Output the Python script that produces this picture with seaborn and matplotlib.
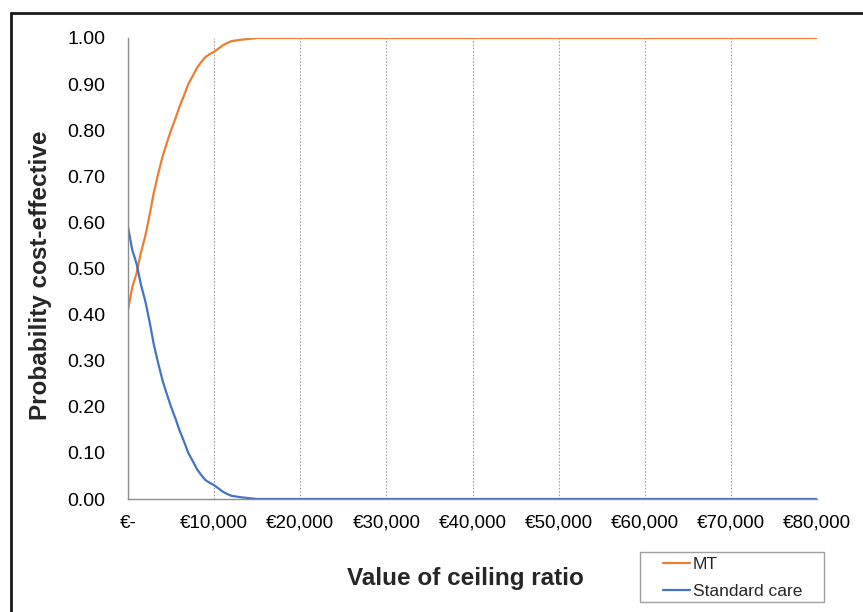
import matplotlib
matplotlib.use("Agg")
import matplotlib.pyplot as plt
import seaborn as sns
import pandas as pd
from matplotlib.patches import Rectangle
from matplotlib.ticker import FixedLocator, FuncFormatter

ceiling = [0, 500, 1000, 1500, 2000, 2500, 3000, 3500, 4000, 4500, 5000, 5500,
           6000, 6500, 7000, 7500, 8000, 8500, 9000, 9500, 10000, 10500, 11000,
           11500, 12000, 13000, 14000, 15000, 20000, 30000, 40000, 50000,
           60000, 70000, 80000]
mt = [0.41, 0.46, 0.49, 0.535, 0.57, 0.615, 0.665, 0.705, 0.742, 0.772, 0.80,
      0.825, 0.852, 0.875, 0.90, 0.917, 0.935, 0.948, 0.959, 0.965, 0.97,
      0.977, 0.984, 0.989, 0.993, 0.996, 0.998, 1.0, 1.0, 1.0, 1.0, 1.0,
      1.0, 1.0, 1.0]
standard = [0.59, 0.54, 0.51, 0.465, 0.43, 0.385, 0.335, 0.295, 0.258, 0.228,
            0.20, 0.175, 0.148, 0.125, 0.10, 0.083, 0.065, 0.052, 0.041, 0.035,
            0.030, 0.023, 0.016, 0.011, 0.007, 0.004, 0.002, 0.0, 0.0, 0.0,
            0.0, 0.0, 0.0, 0.0, 0.0]
series_names = ["MT", "Standard care"]
x_ticks = [0, 10000, 20000, 30000, 40000, 50000, 60000, 70000, 80000]
y_ticks = [0.0, 0.1, 0.2, 0.3, 0.4, 0.5, 0.6, 0.7, 0.8, 0.9, 1.0]

df = pd.DataFrame({
    "ceiling": ceiling * 2,
    "prob": mt + standard,
    "series": [series_names[0]] * len(ceiling) + [series_names[1]] * len(ceiling),
})

sns.set_style("white")
plt.rcParams["font.family"] = ["Liberation Sans", "DejaVu Sans"]

W, H = 863, 612
fig = plt.figure(figsize=(W / 100, H / 100), dpi=100)
ax = fig.add_axes([128 / W, 1 - 499 / H, (817 - 128) / W, (499 - 38) / H])

sns.lineplot(data=df, x="ceiling", y="prob", hue="series",
             palette={"MT": "#ED7D31", "Standard care": "#4472C4"},
             linewidth=1.6, ax=ax, legend=True)

ax.set_xlim(0, 80000)
ax.set_ylim(0, 1.0)
ax.xaxis.set_major_locator(FixedLocator(x_ticks))
ax.yaxis.set_major_locator(FixedLocator(y_ticks))
ax.xaxis.set_major_formatter(FuncFormatter(lambda v, p: "€-" if v == 0 else f"€{int(v):,}"))
ax.yaxis.set_major_formatter(FuncFormatter(lambda v, p: f"{v:.2f}"))

for s in ["top", "right"]:
    ax.spines[s].set_visible(False)
for s in ["left", "bottom"]:
    ax.spines[s].set_color("#8c8c8c")
    ax.spines[s].set_linewidth(1.0)

ax.tick_params(axis="both", which="major", direction="out", length=4.5,
               width=1.0, color="#8c8c8c", labelcolor="black")
ax.tick_params(axis="x", pad=7, labelsize=13.5)
ax.tick_params(axis="y", pad=12, labelsize=14)

ax.grid(True, axis="x", linestyle=(0, (1.5, 1.5)), color="#a0a0a0", linewidth=0.8)
ax.grid(False, axis="y")
ax.set_axisbelow(True)

ax.set_ylabel("Probability cost-effective", fontsize=17.5, fontweight="bold")
ax.yaxis.set_label_coords((52 - 128) / (817 - 128), (499 - 275) / (499 - 38))
ax.set_xlabel("Value of ceiling ratio", fontsize=17.5, fontweight="bold")
ax.xaxis.set_label_coords((465 - 128) / (817 - 128), -(567 - 499) / (499 - 38))

handles, labels = ax.get_legend_handles_labels()
leg = ax.legend(handles, labels, loc="upper left",
                bbox_to_anchor=(663 / W, 1 - 557 / H),
                bbox_transform=fig.transFigure, frameon=False,
                fontsize=12.5, handlelength=1.55,
                handletextpad=0.17, borderpad=0, labelspacing=0.65,
                borderaxespad=0)

# legend frame
fig.patches.append(Rectangle((640 / W, 1 - 602 / H), (824 - 640) / W, (602 - 552) / H,
                             transform=fig.transFigure, fill=False,
                             edgecolor="#a0a0a0", linewidth=1.0))

# outer frame
fig.patches.append(Rectangle((11 / W, -0.1), 1.2, 1 - 13 / H + 0.1,
                             transform=fig.transFigure, fill=False,
                             edgecolor="#1a1a1a", linewidth=2.0))

fig.savefig("out.png", dpi=100)
